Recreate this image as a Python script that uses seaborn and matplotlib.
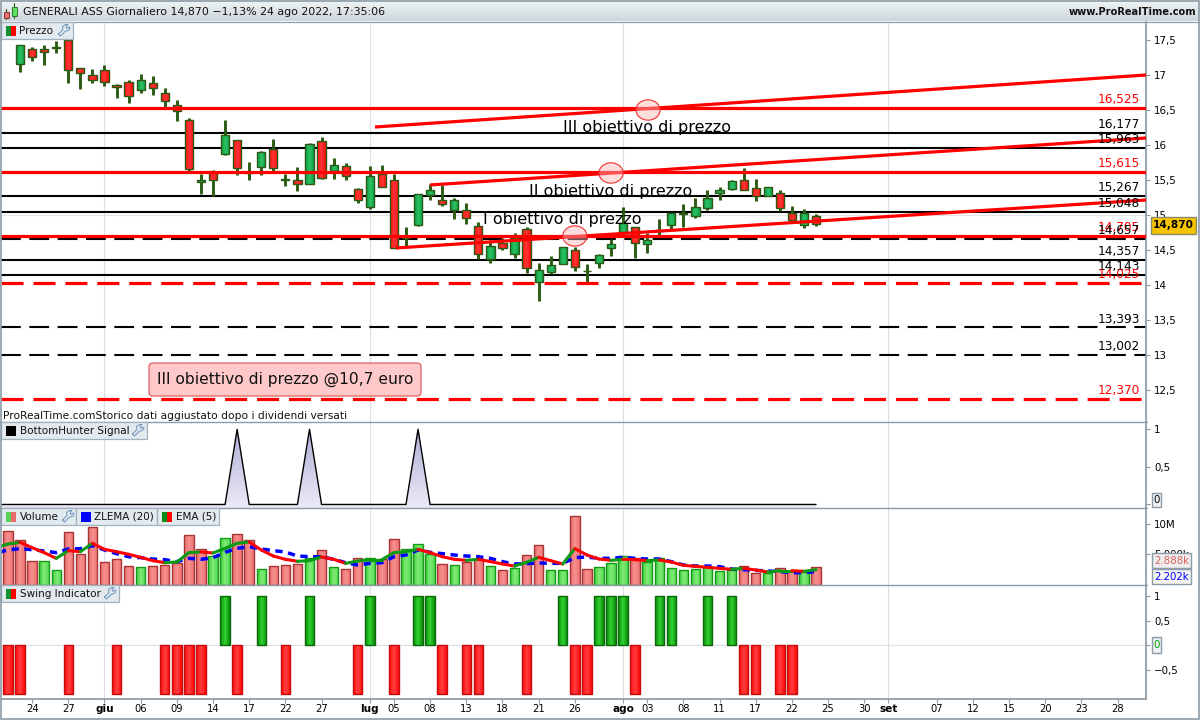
import numpy as np
import matplotlib
matplotlib.use("Agg")
import matplotlib.pyplot as plt
from matplotlib.colors import LinearSegmentedColormap
from matplotlib.patches import Ellipse, FancyBboxPatch, Rectangle
import pandas as pd
import seaborn as sns

# candles, first bar (index 0) sits behind the Prezzo tag so it starts at 1
opens = [17.152, 17.376, 17.367, 17.390, 17.500, 17.095, 16.995, 17.067, 16.852, 16.895,
         16.790, 16.881, 16.738, 16.567, 16.352, 15.476, 15.614, 15.876, 16.067, 15.600,
         15.690, 15.948, 15.505, 15.495, 15.438, 16.052, 15.633, 15.695, 15.367, 15.119,
         15.581, 15.495, 14.666, 14.857, 15.290, 15.210, 15.076, 15.067, 14.838, 14.376,
         14.600, 14.447, 14.800, 14.047, 14.190, 14.295, 14.495, 14.195, 14.310, 14.524,
         14.757, 14.824, 14.581, 14.781, 14.862, 15.019, 14.990, 15.105, 15.310, 15.376,
         15.495, 15.381, 15.267, 15.310, 15.033, 14.853, 14.990]
highs = [17.424, 17.395, 17.429, 17.481, 17.514, 17.095, 17.081, 17.138, 16.871, 16.929,
         17.014, 16.986, 16.810, 16.643, 16.386, 15.586, 15.643, 16.357, 16.067, 15.757,
         15.914, 16.086, 15.590, 15.686, 16.024, 16.114, 15.814, 15.743, 15.381, 15.700,
         15.714, 15.586, 14.824, 15.295, 15.443, 15.424, 15.238, 15.167, 14.904, 14.643,
         14.667, 14.738, 14.824, 14.310, 14.414, 14.538, 14.548, 14.295, 14.438, 14.657,
         15.110, 14.829, 14.743, 14.943, 15.024, 15.157, 15.248, 15.357, 15.395, 15.495,
         15.667, 15.510, 15.395, 15.352, 15.124, 15.081, 15.020]
lows = [17.048, 17.200, 17.143, 17.319, 16.890, 16.800, 16.890, 16.848, 16.671, 16.605,
        16.748, 16.714, 16.533, 16.348, 15.624, 15.305, 15.271, 15.862, 15.576, 15.500,
        15.576, 15.629, 15.414, 15.343, 15.438, 15.510, 15.519, 15.500, 15.176, 15.086,
        15.405, 14.524, 14.547, 14.850, 15.214, 15.129, 14.943, 14.876, 14.367, 14.319,
        14.500, 14.390, 14.176, 13.771, 14.152, 14.295, 14.205, 14.024, 14.248, 14.414,
        14.743, 14.390, 14.461, 14.714, 14.800, 14.833, 14.962, 15.076, 15.219, 15.362,
        15.352, 15.205, 15.267, 15.052, 14.919, 14.819, 14.840]
closes = [17.424, 17.262, 17.333, 17.400, 17.067, 17.024, 16.933, 16.895, 16.824, 16.705,
          16.924, 16.810, 16.624, 16.486, 15.662, 15.495, 15.505, 16.138, 15.667, 15.610,
          15.900, 15.676, 15.515, 15.438, 16.010, 15.524, 15.710, 15.552, 15.210, 15.552,
          15.405, 14.524, 14.676, 15.295, 15.353, 15.153, 15.210, 14.953, 14.447, 14.553,
          14.533, 14.667, 14.247, 14.219, 14.281, 14.538, 14.252, 14.205, 14.424, 14.581,
          14.886, 14.595, 14.643, 14.791, 15.024, 15.029, 15.110, 15.248, 15.353, 15.481,
          15.352, 15.267, 15.395, 15.095, 14.933, 15.024, 14.870]

# horizontal levels: value, label, colour, dashed
level_vals = [16.525, 16.177, 15.963, 15.615, 15.267, 15.048, 14.705, 14.657,
              14.357, 14.143, 14.025, 13.393, 13.002, 12.370]
level_lbls = ["16,525", "16,177", "15,963", "15,615", "15,267", "15,048", "14,705", "14,657",
              "14,357", "14,143", "14,025", "13,393", "13,002", "12,370"]
level_red = [True, False, False, True, False, False, True, False,
             False, False, True, False, False, True]
level_dash = [False, False, False, False, False, False, False, True,
              False, False, True, True, True, True]

trend_x = [[30.43, 94.36], [34.99, 94.36], [32.17, 94.36]]
trend_y = [[16.257, 17.000], [15.429, 16.100], [14.529, 15.214]]
circle_x = [53.07, 50.0, 47.0]
circle_y = [16.50, 15.60, 14.70]

price_ticks = [12.5, 13, 13.5, 14, 14.5, 15, 15.5, 16, 16.5, 17, 17.5]
price_tick_lbls = ["12,5", "13", "13,5", "14", "14,5", "15", "15,5", "16", "16,5", "17", "17,5"]

signal_peaks = [19, 25, 34]

# volume in millions
volume = [8.80, 7.32, 3.88, 3.88, 2.40, 8.63, 5.03, 9.45, 3.72, 4.21, 3.06, 2.90, 3.06, 3.22,
          3.55, 8.14, 5.85, 4.70, 7.65, 8.31, 7.32, 2.57, 3.06, 3.22, 3.39, 4.37, 5.68, 2.90,
          2.57, 4.37, 4.37, 4.20, 7.49, 5.85, 6.67, 5.03, 3.39, 3.22, 3.72, 4.21, 3.06, 2.40,
          2.73, 4.86, 6.50, 2.40, 2.40, 11.26, 2.57, 2.90, 3.55, 4.70, 4.37, 3.72, 4.37, 2.73,
          2.40, 2.57, 2.90, 2.24, 2.40, 3.06, 1.91, 1.91, 2.73, 2.24, 2.08, 2.888]
vol_green = [3, 4, 11, 17, 18, 21, 25, 27, 30, 33, 34, 35, 37, 40, 42, 45, 46, 49, 50, 51,
             53, 54, 55, 56, 57, 58, 59, 60, 63, 66]
# both averages start one bar before the first volume bar, off the left edge
ema5 = [6.10, 6.72, 6.99, 6.12, 5.30, 4.37, 5.63, 5.46, 6.83, 5.85, 5.46, 5.03, 4.54, 3.99, 3.66,
        3.77, 5.30, 5.41, 5.25, 6.01, 6.83, 7.05, 5.74, 4.75, 4.21, 3.88, 3.99, 4.59, 4.21,
        3.55, 3.93, 4.15, 4.15, 5.30, 5.46, 5.85, 5.30, 4.64, 4.21, 4.04, 4.21, 3.83, 3.44,
        3.11, 3.72, 4.54, 3.99, 3.44, 5.96, 4.92, 4.26, 4.04, 4.21, 4.15, 3.99, 4.10, 3.77,
        3.22, 3.06, 2.90, 2.73, 2.57, 2.73, 2.46, 2.13, 2.35, 2.35, 2.24, 2.51]
zlema20 = [5.25, 5.74, 5.96, 5.79, 5.57, 5.30, 5.90, 5.96, 6.45, 5.74, 5.14, 4.64, 4.48, 4.26, 4.15,
           3.83, 4.37, 4.21, 4.48, 5.36, 6.01, 6.28, 5.90, 5.63, 5.41, 4.75, 4.64, 4.64, 4.21,
           3.66, 3.28, 3.55, 3.66, 4.64, 4.92, 5.74, 5.36, 5.14, 4.92, 4.75, 4.64, 4.37, 3.83,
           3.44, 3.50, 3.61, 3.55, 3.55, 4.48, 4.59, 4.37, 4.37, 4.54, 4.37, 4.26, 4.26, 3.83,
           3.28, 3.11, 3.11, 3.01, 2.62, 2.51, 2.40, 2.30, 2.19, 2.02, 2.02, 2.19]

swing_up = [18, 21, 25, 30, 34, 35, 46, 49, 50, 51, 54, 55, 58, 60]
swing_down = [0, 1, 5, 9, 13, 14, 15, 16, 19, 23, 29, 32, 36, 38, 39, 43, 47, 48, 52, 61, 62, 64, 65]

date_idx = [2, 5, 8, 11, 14, 17, 20, 23, 26, 30, 32, 35, 38, 41, 44, 47, 51, 53, 56, 59, 62, 65,
            68, 71, 73, 77, 80, 83, 86, 89, 92]
date_lbls = ["24", "27", "giu", "06", "09", "14", "17", "22", "27", "lug", "05", "08", "13", "18",
             "21", "26", "ago", "03", "08", "11", "17", "22", "25", "30", "set", "07", "12", "15",
             "20", "23", "28"]
month_lbls = ["giu", "lug", "ago", "set"]

AXIS_COL = "#8c9ba6"
TAG_COL = "#e2eaf0"
GRID_COL = "#dcdfe9"
DARK_GREEN = "#2b5a12"
X_LIM = (-0.58, 94.36)

sns.set_theme(style="white")
plt.rcParams["font.family"] = ["DejaVu Sans"]
plt.rcParams["text.color"] = "black"
plt.rcParams["ytick.labelcolor"] = "black"
plt.rcParams["xtick.labelcolor"] = "black"
fig = plt.figure(figsize=(12, 7.2), dpi=100)


def panel(top, bottom, ylim):
    ax = fig.add_axes([1 / 1200, 1 - bottom / 720, 1145 / 1200, (bottom - top) / 720])
    ax.set_facecolor("white")
    for side in ["left", "top", "bottom"]:
        ax.spines[side].set_visible(False)
    ax.spines["right"].set_color(AXIS_COL)
    ax.yaxis.tick_right()
    ax.tick_params(axis="y", length=3, width=0.8, color=AXIS_COL, labelsize=7.4, pad=3, right=True)
    ax.tick_params(axis="x", length=0, labelbottom=False)
    ax.set_xlabel("")
    ax.set_ylabel("")
    for m in [8, 30, 51, 73]:
        ax.axvline(m, color=GRID_COL, lw=0.8, zorder=0)
    ax.set_ylim(*ylim)
    return ax


def shade(ax, bar, stops):
    # soft left to right gradient like the platform bars
    x, w, y, h = bar.get_x(), bar.get_width(), bar.get_y(), bar.get_height()
    cmap = LinearSegmentedColormap.from_list("b", stops)
    grad = cmap(np.linspace(0, 1, 16))[None, :, :3]
    img = ax.imshow(grad, extent=[x, x + w, min(y, y + h), max(y, y + h)], aspect="auto",
                    zorder=bar.get_zorder(), interpolation="bilinear")
    img.set_clip_path(bar)
    bar.set_facecolor("none")
    bar.set_zorder(bar.get_zorder() + 0.1)


# ---- price panel
ax_price = panel(22, 422, (12.043, 17.757))
ax_price.axhline(15, color="#e4e4e8", lw=0.9, zorder=0)
bar_idx = np.arange(1, len(opens) + 1)
candles = pd.DataFrame({"i": bar_idx, "o": opens, "h": highs, "l": lows, "c": closes})
candles["top"] = candles[["o", "c"]].max(axis=1)
candles["bot"] = candles[["o", "c"]].min(axis=1)
candles["up"] = candles["c"] >= candles["o"]
ax_price.vlines(candles["i"], candles["l"], candles["h"], color=DARK_GREEN, lw=2.1, zorder=2.9)
bodies = ax_price.bar(candles["i"], candles["top"] - candles["bot"], bottom=candles["bot"],
                      width=0.68, edgecolor=DARK_GREEN, linewidth=1.0, zorder=3)
for bar, up in zip(bodies, candles["up"]):
    shade(ax_price, bar, ["#0c9a45", "#2cc264", "#10a04a"] if up else ["#ff1010", "#ff3636", "#f80c0c"])

for val, lbl, red, dash in zip(level_vals, level_lbls, level_red, level_dash):
    col = "#ff0000" if red else "black"
    lw = 2.3 if red else 1.5
    ls = "-"
    if dash:
        ls = (0, (6.9, 3.1)) if red else (0, (9.5, 4.1))
    ax_price.axhline(val, color=col, lw=lw, ls=ls, zorder=4 if red else 2)
    ax_price.annotate(lbl, xy=(1, val), xycoords=ax_price.get_yaxis_transform(),
                      xytext=(-4.3, 6.0), textcoords="offset points", ha="right", va="center",
                      fontsize=8.7, color=col, zorder=6)

for tx, ty in zip(trend_x, trend_y):
    ax_price.plot(tx, ty, color="#ff0000", lw=2.3, zorder=4, solid_capstyle="butt")
for cx, cy in zip(circle_x, circle_y):
    ax_price.add_patch(Ellipse((cx, cy), 2.0, 0.29, facecolor="#ffb4b4", alpha=0.45,
                               edgecolor="none", zorder=5))
    ax_price.add_patch(Ellipse((cx, cy), 2.0, 0.29, facecolor="none", edgecolor="#f03030",
                               lw=0.8, zorder=5))

ax_price.text(53.0, 16.25, "III obiettivo di prezzo", ha="center", va="center", fontsize=11.55, zorder=6)
ax_price.text(50.0, 15.34, "II obiettivo di prezzo", ha="center", va="center", fontsize=11.55, zorder=6)
ax_price.text(45.95, 14.93, "I obiettivo di prezzo", ha="center", va="center", fontsize=11.55, zorder=6)
ax_price.text(0.0, 12.135, "ProRealTime.comStorico dati aggiustato dopo i dividendi versati",
              ha="left", va="center", fontsize=7.67, zorder=6, color="#111111",
              transform=ax_price.get_yaxis_transform() + matplotlib.transforms.ScaledTranslation(2 / 100, 0, fig.dpi_scale_trans))
ax_price.set_yticks(price_ticks, price_tick_lbls)
ax_price.set_xlim(*X_LIM)

# ---- bottom hunter
ax_sig = panel(422, 508, (-0.047, 1.097))
sig_x = np.arange(-1, len(volume))
sig_y = np.zeros(len(sig_x))
sig_y[np.array(signal_peaks) + 1] = 1
sns.lineplot(x=sig_x, y=sig_y, color="black", linewidth=1.0, errorbar=None, ax=ax_sig, zorder=3)
fill_cmap = LinearSegmentedColormap.from_list("f", ["#eceaf6", "#aeaed6"])
fill_img = ax_sig.imshow(np.linspace(0, 1, 64)[:, None], cmap=fill_cmap, origin="lower", aspect="auto",
                         extent=[X_LIM[0], X_LIM[1], -0.047, 1.0], zorder=1)
fill_poly = ax_sig.fill_between(sig_x, -0.047, sig_y, color="none")
fill_img.set_clip_path(fill_poly.get_paths()[0], fill_poly.get_transform())
ax_sig.set_yticks([0, 0.5, 1], ["", "0,5", "1"])
ax_sig.set_xlim(*X_LIM)
ax_sig.set_ylim(-0.047, 1.097)

# ---- volume
ax_vol = panel(508, 585, (0, 12.62))
vol_df = pd.DataFrame({"i": np.arange(len(volume)), "v": volume})
vol_df["side"] = np.where(vol_df["i"].isin(vol_green), "up", "down")
sns.barplot(data=vol_df, x="i", y="v", hue="side", native_scale=True, dodge=False, width=0.78,
            palette={"up": "#44c944", "down": "#e66a6a"}, saturation=1, legend=False,
            edgecolor="black", linewidth=1.0, ax=ax_vol, zorder=2)
for bar in list(ax_vol.patches):
    fc = bar.get_facecolor()
    if fc[0] > fc[1]:
        bar.set_edgecolor("#a83434")
        shade(ax_vol, bar, ["#e66c6c", "#f89090", "#ec7474"])
    else:
        bar.set_edgecolor("#149a14")
        shade(ax_vol, bar, ["#3fcc3f", "#80ec74", "#58d858"])
avg_idx = np.arange(-1, len(volume))
sns.lineplot(x=avg_idx, y=zlema20, color="#0000ff", linewidth=2.5, linestyle=(0, (2.1, 1.6)),
             errorbar=None, ax=ax_vol, zorder=3)
for k in range(len(ema5) - 1):
    seg_col = "#0a9a14" if ema5[k + 1] >= ema5[k] else "#ff0000"
    ax_vol.plot(avg_idx[k:k + 2], ema5[k:k + 2], color=seg_col, lw=2.2, zorder=4, solid_capstyle="round")
ax_vol.set_yticks([5, 10], ["5.000k", "10M"])
ax_vol.set_xlabel("")
ax_vol.set_ylabel("")
ax_vol.tick_params(axis="x", length=0, labelbottom=False)
ax_vol.set_xlim(*X_LIM)
ax_vol.set_ylim(0, 12.62)

# ---- swing indicator
ax_swing = panel(585, 699, (-1.10, 1.224))
swing_df = pd.DataFrame({"i": swing_up + swing_down,
                         "s": [1] * len(swing_up) + [-1] * len(swing_down),
                         "side": ["up"] * len(swing_up) + ["down"] * len(swing_down)})
ax_swing.axhline(0, color="#e2e2e6", lw=0.9, zorder=0)
sns.barplot(data=swing_df, x="i", y="s", hue="side", native_scale=True, dodge=False, width=0.78,
            palette={"up": "#109a10", "down": "#ff1010"}, saturation=1, legend=False,
            edgecolor="black", linewidth=1.0, ax=ax_swing, zorder=2)
for bar in list(ax_swing.patches):
    fc = bar.get_facecolor()
    if fc[0] > fc[1]:
        bar.set_edgecolor("#c40c0c")
        shade(ax_swing, bar, ["#ff0a0a", "#ff4040", "#ff0a0a"])
    else:
        bar.set_edgecolor("#0a6a0a")
        shade(ax_swing, bar, ["#0a8c0a", "#32d232", "#0a8c0a"])
ax_swing.set_yticks([-0.5, 0, 0.5, 1], ["\u22120,5", "", "0,5", "1"])
ax_swing.set_xticks(date_idx, date_lbls)
ax_swing.tick_params(axis="x", length=3, width=0.8, color=AXIS_COL, labelsize=7.2, pad=0.8,
                     labelbottom=True, bottom=True)
ax_swing.spines["bottom"].set_visible(True)
ax_swing.spines["bottom"].set_color(AXIS_COL)
for t in ax_swing.get_xticklabels():
    if t.get_text() in month_lbls:
        t.set_fontweight("bold")
        t.set_fontsize(7.6)
ax_swing.set_xlabel("")
ax_swing.set_ylabel("")
ax_swing.set_xlim(*X_LIM)
ax_swing.set_ylim(-1.10, 1.224)

# ---- platform chrome on a pixel overlay
over = fig.add_axes([0, 0, 1, 1], zorder=20)
over.set_xlim(0, 1200)
over.set_ylim(720, 0)
over.axis("off")
over.patch.set_alpha(0)

head = LinearSegmentedColormap.from_list("h", ["#f0f4f6", "#ccd6dc"])
over.imshow(np.linspace(0, 1, 24)[:, None], cmap=head, extent=[0, 1200, 21, 0], aspect="auto", zorder=1)
over.set_xlim(0, 1200)
over.set_ylim(720, 0)
over.plot([0, 1200], [21.5, 21.5], color=AXIS_COL, lw=0.9)
for y in [422, 508, 585]:
    over.plot([0, 1146.5], [y, y], color=AXIS_COL, lw=1.0, zorder=2)
over.add_patch(Rectangle((0.5, 0.5), 1198.5, 718.5, facecolor="none", edgecolor=AXIS_COL, lw=1.2, zorder=9))

# header icon
over.plot([6, 6], [9, 19], color=DARK_GREEN, lw=0.8)
over.add_patch(Rectangle((3.5, 11.5), 5.5, 6, facecolor="#f07070", edgecolor="#7a2020", lw=0.6, zorder=3))
over.plot([14, 14], [3, 18], color=DARK_GREEN, lw=0.8)
over.add_patch(Rectangle((11.5, 7), 5.5, 9, facecolor="#60e060", edgecolor="#1a6a1a", lw=0.6, zorder=3))

over.text(23, 12, "GENERALI ASS Giornaliero 14,870 \u22121,13% 24 ago 2022, 17:35:06",
          fontsize=7.96, va="center", ha="left", color="#111111", zorder=3)
over.text(1196, 12, "www.ProRealTime.com", fontsize=7.15, va="center", ha="right",
          color="#111111", fontweight="bold", zorder=3)


def wrench(x, y):
    wx = np.array([0.5, 5, 4.5, 7.5, 10, 8, 9, 11, 12, 11, 7, 2.5, 0.5])
    wy = np.array([9.5, 5, 2, 0, 0, 2, 4, 2.5, 3, 5.5, 7, 11.5, 9.5])
    over.plot(x + wx, y + wy, color="#6f93b8", lw=0.7, zorder=6)


def tag(x0, x1, y0, y1, label, swatch, tool=None):
    over.add_patch(Rectangle((x0, y0), x1 - x0, y1 - y0, facecolor=TAG_COL, edgecolor="#a0b2be", lw=0.9, zorder=5))
    sx = x0 + 4.5
    w = 10 / len(swatch)
    for n, col in enumerate(swatch):
        over.add_patch(Rectangle((sx + n * w, y0 + 3.5), w, 10, facecolor=col, edgecolor="none", zorder=6))
    over.text(x0 + 18.5, (y0 + y1) / 2 + 0.3, label, fontsize=7.5, va="center", ha="left", color="#111111", zorder=6)
    if tool is not None:
        wrench(tool, y0 + 2.5)


tag(1, 73, 22, 39, "Prezzo", ["#0f8f2f", "#ff0000"], 58)
tag(1, 147, 422, 439, "BottomHunter Signal", ["#000000"], 132)
tag(1, 76, 508, 525, "Volume", ["#5ad25a", "#e66a6a"], 62)
tag(76, 157, 508, 525, "ZLEMA (20)", ["#0000ff"])
tag(157, 219, 508, 525, "EMA (5)", ["#0a8a14", "#ff0000"])
tag(1, 119, 585, 602, "Swing Indicator", ["#0f8f2f", "#ff0000"], 104)

# note box on the price panel
over.add_patch(FancyBboxPatch((151, 365), 268, 29, boxstyle="round,pad=2,rounding_size=4",
                              facecolor="#ffc9c9", edgecolor="#e06060", lw=0.9, zorder=4))
over.text(285, 379.5, "III obiettivo di prezzo @10,7 euro", fontsize=11.2, ha="center", va="center",
          color="#111111", zorder=5)


def value_box(x0, x1, y0, y1, txt, fc, ec, tc, weight="normal", size=7.4):
    over.add_patch(Rectangle((x0, y0), x1 - x0, y1 - y0, facecolor=fc, edgecolor=ec, lw=1.0, zorder=5))
    over.text((x0 + x1) / 2, (y0 + y1) / 2, txt, fontsize=size, ha="center", va="center",
              color=tc, fontweight=weight, zorder=6)


value_box(1151, 1196, 217, 234, "14,870", "#f5c400", "#8a8a70", "black", "bold", 7.6)
value_box(1152, 1191, 553, 568, "2.888k", "#eeeeee", AXIS_COL, "#e06060")
value_box(1152, 1191, 569, 584, "2.202k", "#f4f4f4", AXIS_COL, "#0000ff")
value_box(1152, 1161, 637, 653, "0", "#f0f0f0", AXIS_COL, "#00a000")
value_box(1152, 1161, 493, 507, "0", "#f0f0f0", AXIS_COL, "black")

fig.savefig("out.png", dpi=100)
